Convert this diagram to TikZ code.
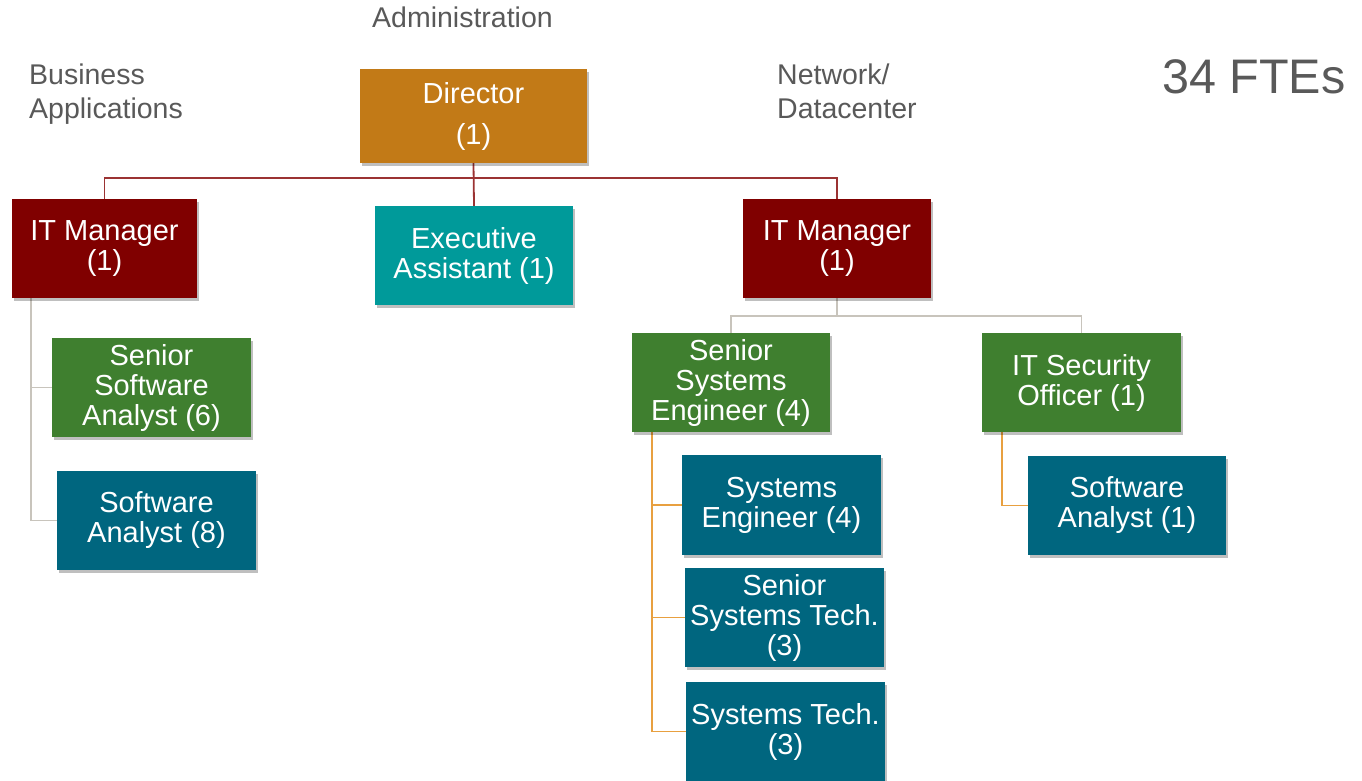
\documentclass[tikz,border=0pt]{standalone}
\usepackage{fontspec}
\setmainfont{Liberation Sans}
\usetikzlibrary{shadows,backgrounds}
\definecolor{dirc}{HTML}{C27A17}
\definecolor{mgrc}{HTML}{800000}
\definecolor{tealc}{HTML}{009A9A}
\definecolor{greenc}{HTML}{3F7F2F}
\definecolor{bluec}{HTML}{00667F}
\definecolor{redline}{HTML}{9B3333}
\definecolor{grayline}{HTML}{C8C4BC}
\definecolor{orangeline}{HTML}{E8A040}
\definecolor{labelc}{HTML}{595959}
\tikzset{
  box/.style={inner sep=0pt, align=center, text=white,
    font=\fontsize{29}{30}\selectfont,
    drop shadow={shadow xshift=2pt, shadow yshift=-3pt, opacity=0.25, fill=black}},
  lbl/.style={text=labelc, font=\fontsize{28.5}{34}\selectfont, align=left, inner sep=0pt},
  redl/.style={draw=redline, line width=1.8pt},
  grayl/.style={draw=grayline, line width=1.8pt},
  orl/.style={draw=orangeline, line width=1.8pt},
}
\begin{document}
\begin{tikzpicture}[x=1pt,y=-1pt]
\useasboundingbox (0,0) rectangle (1362,780);
% boxes
\node[box, fill=dirc, minimum width=227pt, minimum height=94pt] (dir) at (473.5,116) {Director\\[11pt](1)};
\node[box, fill=mgrc, minimum width=185pt, minimum height=99pt] (mgrl) at (104.5,248.5) {IT Manager\\(1)};
\node[box, fill=tealc, minimum width=198pt, minimum height=99pt] (ea) at (474,255.5) {Executive\\Assistant (1)};
\node[box, fill=mgrc, minimum width=188pt, minimum height=99pt] (mgrr) at (837,248.5) {IT Manager\\(1)};
\node[box, fill=greenc, minimum width=199pt, minimum height=99pt] (ssa) at (151.5,387.5) {Senior\\Software\\Analyst (6)};
\node[box, fill=bluec, minimum width=199pt, minimum height=99pt] (sa8) at (156.5,520.5) {Software\\Analyst (8)};
\node[box, fill=greenc, minimum width=198pt, minimum height=99pt] (sse) at (731,382.5) {Senior\\Systems\\Engineer (4)};
\node[box, fill=greenc, minimum width=199pt, minimum height=99pt] (iso) at (1081.5,382.5) {IT Security\\Officer (1)};
\node[box, fill=bluec, minimum width=199pt, minimum height=100pt] (se) at (781.5,505) {Systems\\Engineer (4)};
\node[box, fill=bluec, minimum width=199pt, minimum height=99pt] (sst) at (784.5,617.5) {Senior\\Systems Tech.\\(3)};
\node[box, fill=bluec, minimum width=199pt, minimum height=99pt] (st) at (785.5,731.5) {Systems Tech.\\(3)};
\node[box, fill=bluec, minimum width=198pt, minimum height=99pt] (sa1) at (1127,505.5) {Software\\Analyst (1)};
% labels
\node[lbl, anchor=base west] (adm) at (372,27) {Administration};
\node[lbl, anchor=base west] (ba) at (29,118) {Business\\Applications};
\node[lbl, anchor=base west] (nd) at (777,118) {Network/\\Datacenter};
\node[text=labelc, font=\fontsize{48.5}{50}\selectfont, inner sep=0pt, anchor=base west] (fte) at (1162,93) {34 FTEs};
% connectors
\coordinate (bus) at (473,178);
\coordinate (rbus) at (837,316);
\begin{scope}[on background layer]
\draw[redl] (dir.south) -- (ea.north);
\draw[redl] (mgrl.north) |- (bus) -| (mgrr.north);
\draw[grayl] (mgrl.south -| 31,0) |- (ssa.west);
\draw[grayl] (mgrl.south -| 31,0) |- (sa8.west);
\draw[grayl] (mgrr.south) -- (rbus);
\draw[grayl] (rbus) -| (sse.north);
\draw[grayl] (rbus) -| (iso.north);
\draw[orl] (sse.south -| 652,0) |- (se.west);
\draw[orl] (sse.south -| 652,0) |- (sst.west);
\draw[orl] (sse.south -| 652,0) |- (st.west);
\draw[orl] (iso.south -| 1002,0) |- (sa1.west);
\end{scope}
\end{tikzpicture}
\end{document}
